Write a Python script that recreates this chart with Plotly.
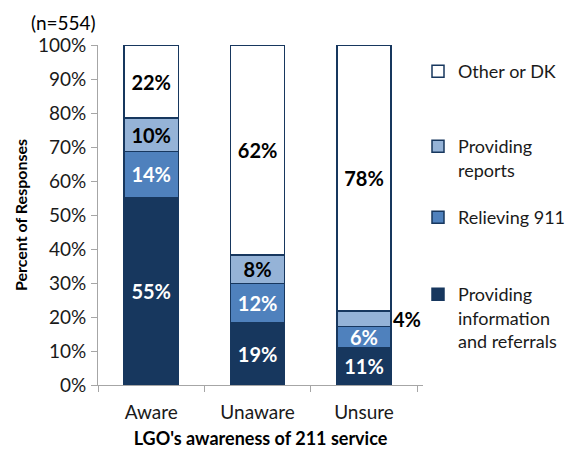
import plotly.graph_objects as go

categories = ["Aware", "Unaware", "Unsure"]
info_vals = [55.2, 18.4, 10.9]
relieving_vals = [13.5, 11.5, 6.3]
reports_vals = [9.8, 8.3, 4.5]
other_vals = [21.5, 61.8, 78.3]

info_lbl = ["55%", "19%", "11%"]
relieving_lbl = ["14%", "12%", "6%"]
reports_lbl = ["10%", "8%", "4%"]
other_lbl = ["22%", "62%", "78%"]

y_ticks = list(range(0, 101, 10))
y_tick_text = [f"{t}%" for t in y_ticks]

FONT = "Lato"
NAVY = "#17375E"

# the page body has an 8px margin, so the figure is sized to the visible area
W, H = 566, 441

series = [
    ("Providing<br>information<br>and referrals", info_vals, info_lbl, NAVY, "white", "legend4"),
    ("Relieving 911", relieving_vals, relieving_lbl, "#4F81BD", "white", "legend3"),
    ("Providing<br>reports", reports_vals, [l if i != 2 else "" for i, l in enumerate(reports_lbl)], "#95B3D7", "black", "legend2"),
    ("Other or DK", other_vals, other_lbl, "white", "black", "legend"),
]

fig = go.Figure()
for name, vals, lbls, color, tcolor, leg in series:
    fig.add_trace(go.Bar(
        x=categories, y=vals, name=name, text=lbls,
        textposition="inside", insidetextanchor="middle", textangle=0,
        constraintext="none",
        insidetextfont=dict(family=FONT, size=20, color=tcolor, weight="bold"),
        marker=dict(color=color, line=dict(color=NAVY, width=1.5)),
        legend=leg, showlegend=True, hoverinfo="skip",
    ))

# outside label for the small "Providing reports" segment of Unsure
fig.add_annotation(
    x=categories[2], y=info_vals[2] + relieving_vals[2] + reports_vals[2] / 2,
    text=reports_lbl[2], showarrow=False, xanchor="left", xshift=27,
    font=dict(family=FONT, size=20, color="black", weight="bold"),
)

leg_common = dict(font=dict(family=FONT, size=18, color="#1a1a1a"),
                  xref="container", yref="container",
                  xanchor="left", yanchor="top", valign="top",
                  bgcolor="rgba(0,0,0,0)", borderwidth=0, x=410 / W)

fig.update_layout(
    width=W, height=H,
    margin=dict(l=90, r=151, t=37, b=64, autoexpand=False),
    paper_bgcolor="white", plot_bgcolor="white",
    barmode="stack", bargap=0.49,
    showlegend=True,
    font=dict(family=FONT, color="#1a1a1a"),
    title=dict(text="(n=554)", xref="container", yref="container",
               x=23 / W, xanchor="left", y=1 - 15 / H, yanchor="middle",
               font=dict(family=FONT, size=19, color="black")),
    legend=dict(**leg_common, y=1 - 45 / H),
    legend2=dict(**leg_common, y=1 - 120 / H),
    legend3=dict(**leg_common, y=1 - 191 / H),
    legend4=dict(**leg_common, y=1 - 268 / H),
    xaxis=dict(
        showline=True, linecolor="#A6A6A6", linewidth=1,
        ticks="outside", tickson="boundaries", ticklen=6, tickcolor="#A6A6A6",
        ticklabelstandoff=10,
        tickfont=dict(family=FONT, size=19, color="#1a1a1a"),
        title=dict(text="LGO's awareness of 211 service", standoff=11,
                   font=dict(family=FONT, size=18, color="black", weight="bold")),
        showgrid=False,
    ),
    yaxis=dict(
        range=[0, 100], tickvals=y_ticks, ticktext=y_tick_text,
        showline=True, linecolor="#A6A6A6", linewidth=1,
        ticks="outside", ticklen=6, tickcolor="#A6A6A6",
        ticklabelstandoff=1,
        tickfont=dict(family=FONT, size=19, color="#1a1a1a"),
        showgrid=False, zeroline=False,
        title=dict(text="Percent of Responses", standoff=6,
                   font=dict(family=FONT, size=16, color="black", weight="bold")),
    ),
)

fig.write_html("out.html")
